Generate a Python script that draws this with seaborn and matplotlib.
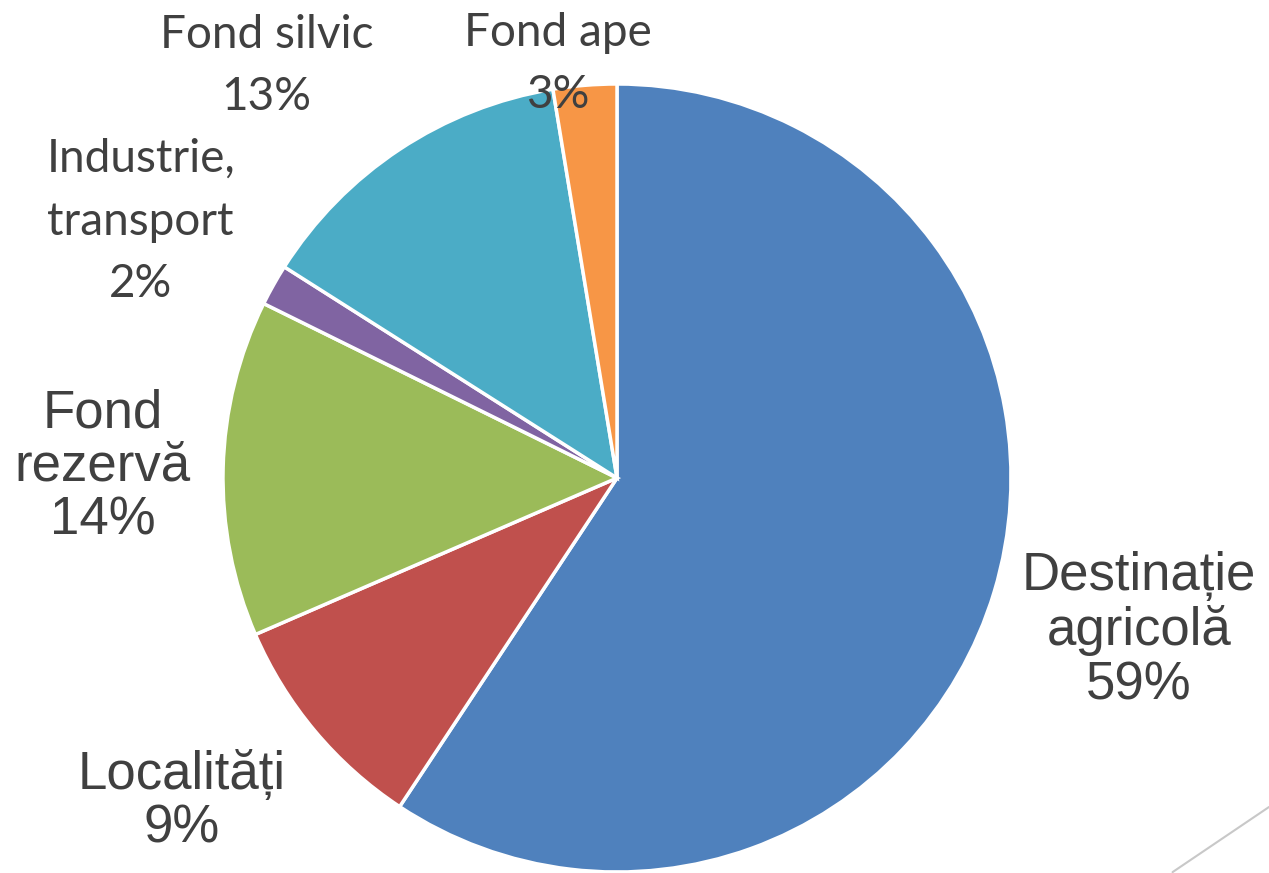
import matplotlib.pyplot as plt
import seaborn as sns
from matplotlib.lines import Line2D

# Land fund structure (share of total area, %)
categories = ["Destinație\nagricolă", "Localități", "Fond\nrezervă",
              "Industrie,\ntransport", "Fond silvic", "Fond ape"]
values = [59.3, 9.2, 13.8, 1.7, 13.4, 2.6]
colors = ["#4F81BD", "#C0504D", "#9BBB59", "#8064A2", "#4BACC6", "#F79646"]

# label placement (data coords, pie radius = 1) and font per label
label_pos = [(1.325, -0.388), (-1.105, -0.821), (-1.306, 0.028),
             (-1.209, 0.651), (-0.890, 1.046), (-0.151, 1.051)]
label_font = ["Liberation Sans", "Liberation Sans", "Liberation Sans",
              "Lato", "Lato", "Lato"]
label_size = [38, 38, 38, 33, 33, 33]

sns.set_theme(style="white")
sns.set_palette(sns.color_palette(colors))

fig = plt.figure(figsize=(12.69, 8.73), dpi=100)
ax = fig.add_axes([0, 0, 1, 1])

# pie centre at (617, 478) px, radius ~394 px
R = 394
ax.pie(values, colors=colors, startangle=90, counterclock=False,
       radius=1, wedgeprops=dict(edgecolor="white", linewidth=2.5))

ax.set_xlim(-617 / R, (1269 - 617) / R)
ax.set_ylim(-(873 - 478) / R, 478 / R)
ax.set_aspect("auto")
ax.axis("off")

for cat, v, (x, y), fam, fs in zip(categories, values, label_pos, label_font, label_size):
    ax.text(x, y, f"{cat}\n{round(v)}%", ha="center", va="center", fontsize=fs,
            family=[fam, "DejaVu Sans"], color="#404040",
            linespacing=1.1 if fam == "Liberation Sans" else 1.6)

# decorative slide line in the bottom-right corner
fig.add_artist(Line2D([0.924, 1.0], [0.001, 0.0756], transform=fig.transFigure,
                      color="#C8C8C8", linewidth=1.5))

fig.savefig("out.png", dpi=100)
